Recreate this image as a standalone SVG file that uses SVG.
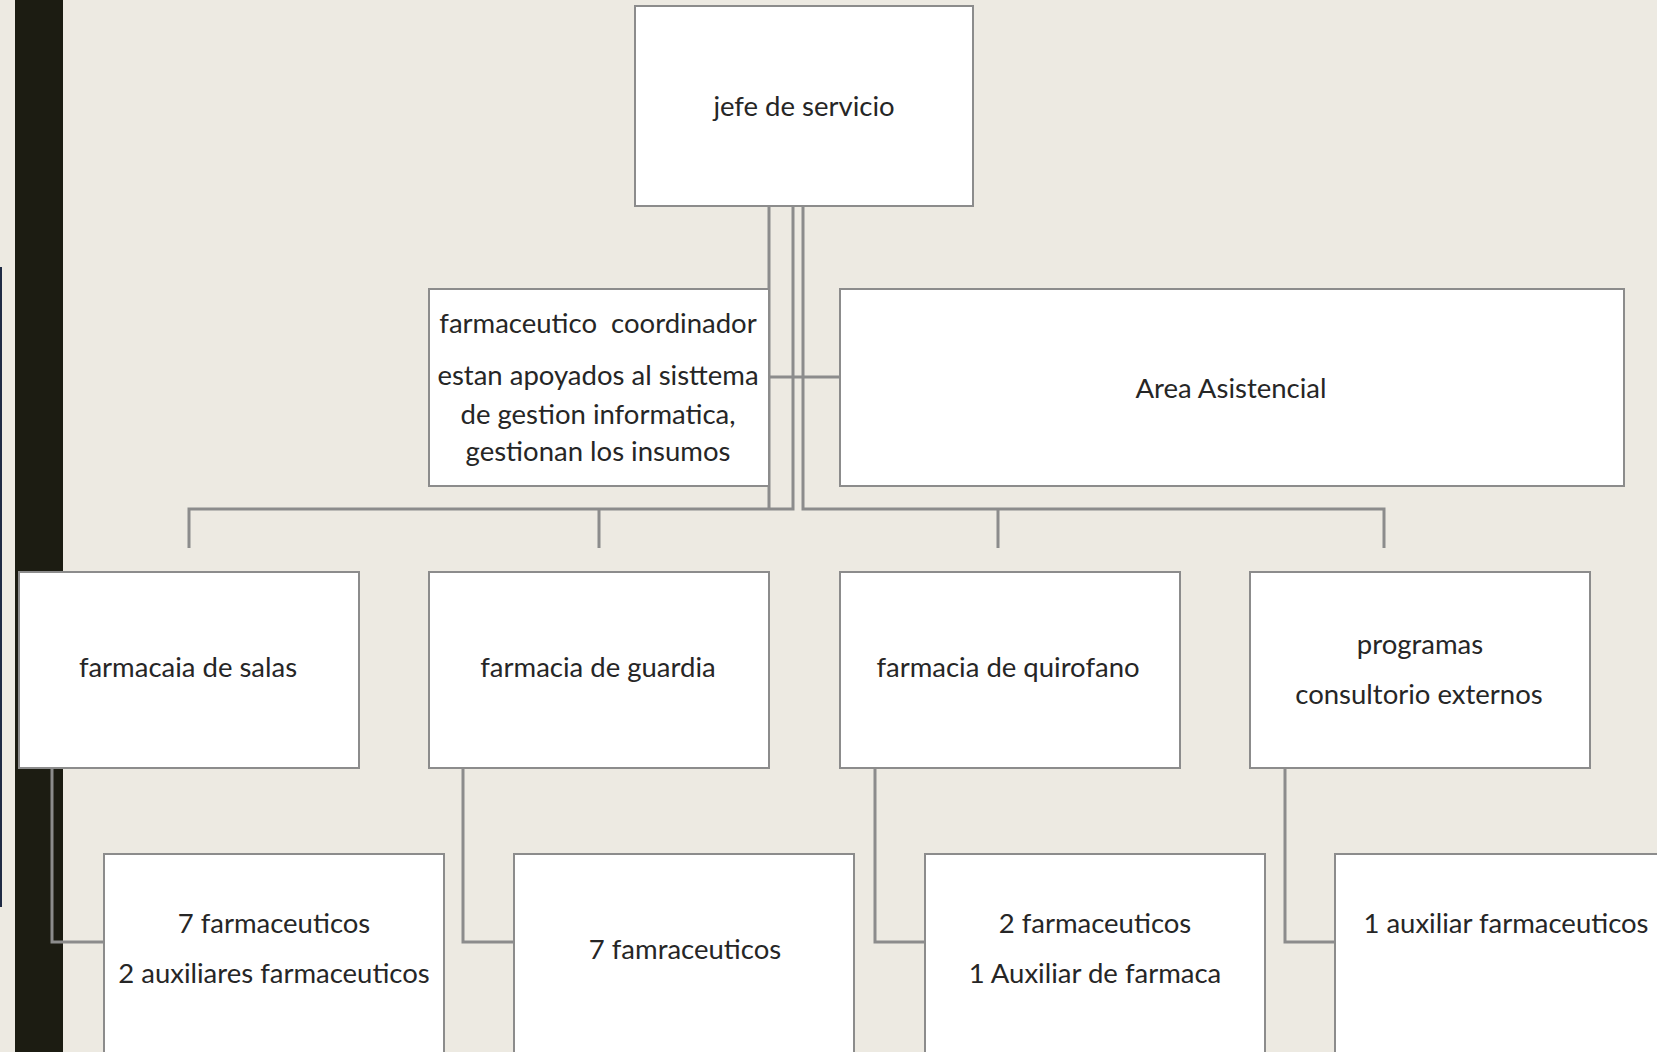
<svg xmlns="http://www.w3.org/2000/svg" width="1657" height="1052" viewBox="0 0 1657 1052">
<style>
.bg{fill:#EDEAE2}
.box{fill:#FFFFFF;stroke:#8C8C8C;stroke-width:2}
.ln{fill:none;stroke:#8C8C8C;stroke-width:3}
.t{font-family:Lato,"Open Sans","Liberation Sans",sans-serif;font-size:27.5px;fill:#262626;text-anchor:middle}
</style>
<rect class="bg" x="0" y="0" width="1657" height="1052"/>
<rect x="0" y="267" width="2" height="640" fill="#1E2A44"/>
<rect x="15" y="0" width="48" height="1052" fill="#1C1C12"/>

<g id="connectors">
<path class="ln" d="M769,206 V509"/>
<path class="ln" d="M793,206 V509 H189 V548 M599,509 V548"/>
<path class="ln" d="M803,206 V509 H1384 V548 M998,509 V548"/>
<path class="ln" d="M770,377 H840"/>
<path class="ln" d="M52,768 V942 H104"/>
<path class="ln" d="M463,768 V942 H514"/>
<path class="ln" d="M875,768 V942 H925"/>
<path class="ln" d="M1285,768 V942 H1335"/>
</g>

<g id="jefe">
<rect class="box" x="635" y="6" width="338" height="200"/>
<text class="t" x="804" y="116">jefe de servicio</text>
</g>
<g id="coordinador">
<rect class="box" x="429" y="289" width="340" height="197"/>
<text class="t" x="598" y="333" xml:space="preserve" style="white-space:pre">farmaceutico  coordinador</text>
<text class="t" x="598" y="385">estan apoyados al sisttema</text>
<text class="t" x="598" y="424">de gestion informatica,</text>
<text class="t" x="598" y="461">gestionan los insumos</text>
</g>
<g id="area">
<rect class="box" x="840" y="289" width="784" height="197"/>
<text class="t" x="1231" y="398">Area Asistencial</text>
</g>
<g id="salas">
<rect class="box" x="19" y="572" width="340" height="196"/>
<text class="t" x="188" y="677">farmacaia de salas</text>
</g>
<g id="guardia">
<rect class="box" x="429" y="572" width="340" height="196"/>
<text class="t" x="598" y="677">farmacia de guardia</text>
</g>
<g id="quirofano">
<rect class="box" x="840" y="572" width="340" height="196"/>
<text class="t" x="1008" y="677">farmacia de quirofano</text>
</g>
<g id="programas">
<rect class="box" x="1250" y="572" width="340" height="196"/>
<text class="t" x="1420" y="654">programas</text>
<text class="t" x="1419" y="704">consultorio externos</text>
</g>
<g id="salas-personal">
<rect class="box" x="104" y="854" width="340" height="210"/>
<text class="t" x="274" y="933">7 farmaceuticos</text>
<text class="t" x="274" y="983">2 auxiliares farmaceuticos</text>
</g>
<g id="guardia-personal">
<rect class="box" x="514" y="854" width="340" height="210"/>
<text class="t" x="685" y="959">7 famraceuticos</text>
</g>
<g id="quirofano-personal">
<rect class="box" x="925" y="854" width="340" height="210"/>
<text class="t" x="1095" y="933">2 farmaceuticos</text>
<text class="t" x="1095" y="983">1 Auxiliar de farmaca</text>
</g>
<g id="programas-personal">
<rect class="box" x="1335" y="854" width="340" height="210"/>
<text class="t" x="1506" y="933">1 auxiliar farmaceuticos</text>
</g>
</svg>
